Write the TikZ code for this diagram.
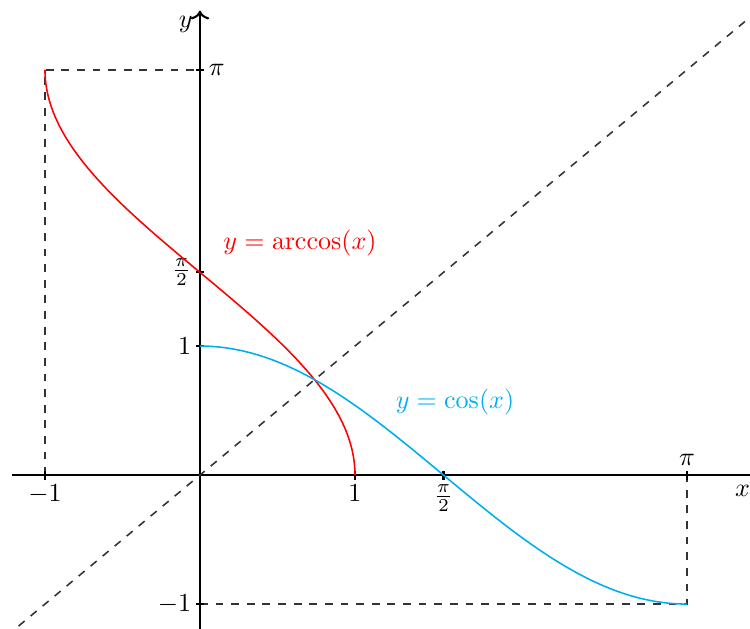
\documentclass[tikz,border=0pt]{standalone}
\usepackage{amsmath,amssymb}
\usetikzlibrary{arrows.meta,positioning}
\definecolor{cosblue}{RGB}{0,174,239}

\begin{document}
\begin{tikzpicture}[x=2.093cm, y=1.742cm, >=To, every node/.style={font=\normalsize, inner sep=1.5pt},
    tick/.style={thick}, guide/.style={dashed, semithick, black!80}]
  \useasboundingbox (-1.29,-1.186) rectangle (3.548,3.682);

  % Axes
  \draw[->, thick] (-1.21,0) -- (3.62,0);
  \draw[->, thick] (0,-1.25) -- (0,3.6);
  \node[left] (ylab) at (-0.02,3.49) {$y$};
  \node (xlab) at (3.5,-0.12) {$x$};

  % Line y = x
  \draw[guide] (-1.17,-1.17) -- (3.6,3.6);

  % Guide lines
  \draw[guide] (-1,0) -- (-1,pi) -- (0,pi);
  \draw[guide] (0,-1) -- (pi,-1) -- (pi,0);

  % Ticks on the x axis
  \draw[tick] (-1,0.035) -- (-1,-0.035) node[below] (xm1) {$-1$};
  \draw[tick] (1,0.035) -- (1,-0.035) node[below] (x1) {$1$};
  \draw[tick] (pi/2,0.035) -- (pi/2,-0.035) node[below] (xpi2) {$\frac{\pi}{2}$};
  \draw[tick] (pi,-0.035) -- (pi,0.035) node[above] (xpi) {$\pi$};

  % Ticks on the y axis
  \draw[tick] (-0.025,pi) -- (0.025,pi) node[right] (ypi) {$\pi$};
  \draw[tick] (0.025,pi/2) -- (-0.025,pi/2) node[left] (ypi2) {$\frac{\pi}{2}$};
  \draw[tick] (0.025,1) -- (-0.025,1) node[left] (y1) {$1$};
  \draw[tick] (0.025,-1) -- (-0.025,-1) node[left] (ym1) {$-1$};

  % Curves
  \draw[red, semithick, samples=120, domain=0:pi] plot ({cos(\x r)}, \x);
  \draw[cosblue, semithick, samples=120, domain=0:pi] plot (\x, {cos(\x r)});
  \node[red] (arccoslab) at (0.645,1.80) {$y=\arccos(x)$};
  \node[cosblue] (coslab) at (1.645,0.566) {$y=\cos(x)$};
\end{tikzpicture}
\end{document}
